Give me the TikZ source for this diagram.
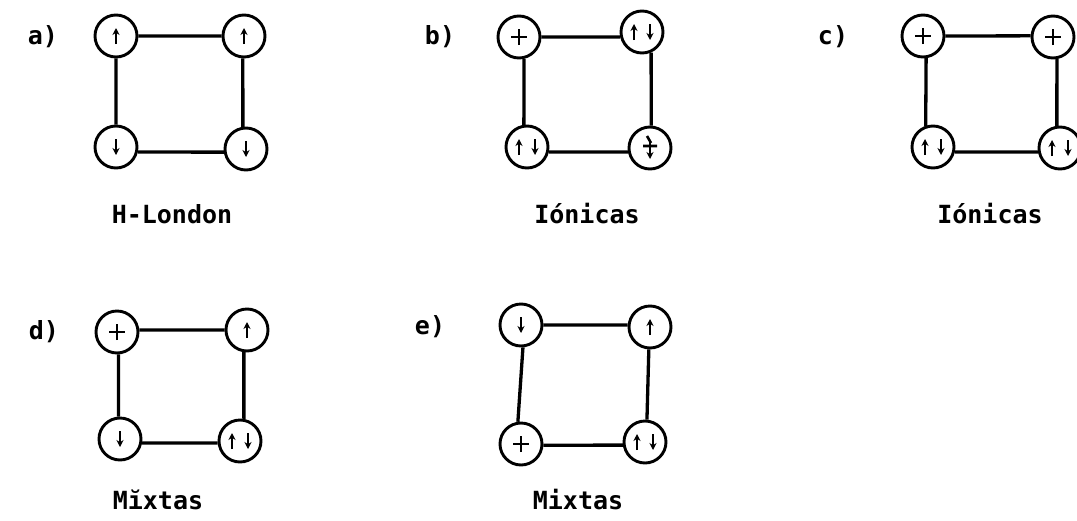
\documentclass[tikz,border=0pt]{standalone}
\usepackage{fontspec}
\setmonofont{DejaVu Sans Mono}
\usetikzlibrary{arrows.meta}
\tikzset{
  x=1pt,y=1pt,
  site/.style={circle,draw,line width=2.9pt,minimum size=42pt,inner sep=0pt},
  bond/.style={line width=3.3pt},
  lab/.style={font=\ttfamily\bfseries\fontsize{25}{30}\selectfont,inner sep=0pt},
  spin/.style={line width=2.6pt},
  tip/.style={-{Stealth[length=7pt,width=7pt]}},
  pics/up/.style={code={\draw[spin,tip] (0,-8) -- (0,8);}},
  pics/dn/.style={code={\draw[spin,tip] (0,8) -- (0,-8);}},
  pics/ud/.style={code={\draw[spin,tip] (-8,-8) -- (-8,8);\draw[spin,tip] (8,8) -- (8,-8);}},
  pics/pl/.style={code={\draw[spin] (0,-8) -- (0,8) (-8,0) -- (8,0);}},
  pics/pld/.style={code={\draw[spin] (-7,2) -- (7,2) (-3,12) -- (1,5);\draw[spin,tip] (0,6) -- (0,-11);}}
}
\begin{document}
\begin{tikzpicture}
\useasboundingbox (0,0) rectangle (1077,-520);
% a)
\node[lab] (la) at (43,-37) {a)};
\node[site] (a1) at (116,-36) {};
\node[site] (a2) at (244,-36) {};
\node[site] (a3) at (116,-147) {};
\node[site] (a4) at (246,-149) {};
\draw[bond] (a1.east) -- (a2.west) (a2.-93) -- (a4.98)
            (a4.188) -- (a3.-13) (a3.north) -- (a1.south);
\pic at (a1.center) {up}; \pic at (a2.center) {up};
\pic at (a3.center) {dn}; \pic at (a4.center) {dn};
\node[lab] (ta) at (172,-214) {H-London};
% b)
\node[lab] (lb) at (440,-37) {b)};
\node[site] (b1) at (519,-37) {};
\node[site] (b2) at (642,-32) {};
\node[site] (b3) at (527,-147) {};
\node[site] (b4) at (650,-148) {};
\draw[bond] (b1.east) -- (b2.193) (b2.-66) -- (b4.87)
            (b4.190) -- (b3.-13) (b3.98) -- (b1.-77);
\pic at (b1.center) {pl}; \pic at (b2.center) {ud};
\pic at (b3.center) {ud}; \pic at (b4.center) {pld};
\node[lab] (tb) at (587,-214) {Iónicas};
% c)
\node[lab] (lc) at (833,-37) {c)};
\node[site] (c1) at (923,-36) {};
\node[site] (c2) at (1053,-37) {};
\node[site] (c3) at (933,-147) {};
\node[site] (c4) at (1060,-148) {};
\draw[bond] (c1.east) -- (c2.177) (c2.-80) -- (c4.98)
            (c4.190) -- (c3.-13) (c3.109) -- (c1.-82);
\pic at (c1.center) {pl}; \pic at (c2.center) {pl};
\pic at (c3.center) {ud}; \pic at (c4.center) {ud};
\node[lab] (tc) at (990,-214) {Iónicas};
% d)
\node[lab] (ld) at (44,-332) {d)};
\node[site] (d1) at (117,-332) {};
\node[site] (d2) at (247,-330) {};
\node[site] (d3) at (120,-439) {};
\node[site] (d4) at (240,-441) {};
\draw[bond] (d1.5) -- (d2.west) (d2.-98) -- (d4.80)
            (d4.185) -- (d3.-10) (d3.94) -- (d1.-86);
\pic at (d1.center) {pl}; \pic at (d2.center) {up};
\pic at (d3.center) {dn}; \pic at (d4.center) {ud};
\node[lab] (td) at (158,-500) {Mĭxtas};
% e)
\node[lab] (le) at (430,-327) {e)};
\node[site] (e1) at (521,-325) {};
\node[site] (e2) at (650,-327) {};
\node[site] (e3) at (521,-444) {};
\node[site] (e4) at (645,-442) {};
\draw[bond] (e1.east) -- (e2.175) (e2.-93) -- (e4.85)
            (e4.188) -- (e3.-3) (e3.98) -- (e1.-85);
\pic at (e1.center) {dn}; \pic at (e2.center) {up};
\pic at (e3.center) {pl}; \pic at (e4.center) {ud};
\node[lab] (te) at (578,-500) {Mixtas};
\end{tikzpicture}
\end{document}
